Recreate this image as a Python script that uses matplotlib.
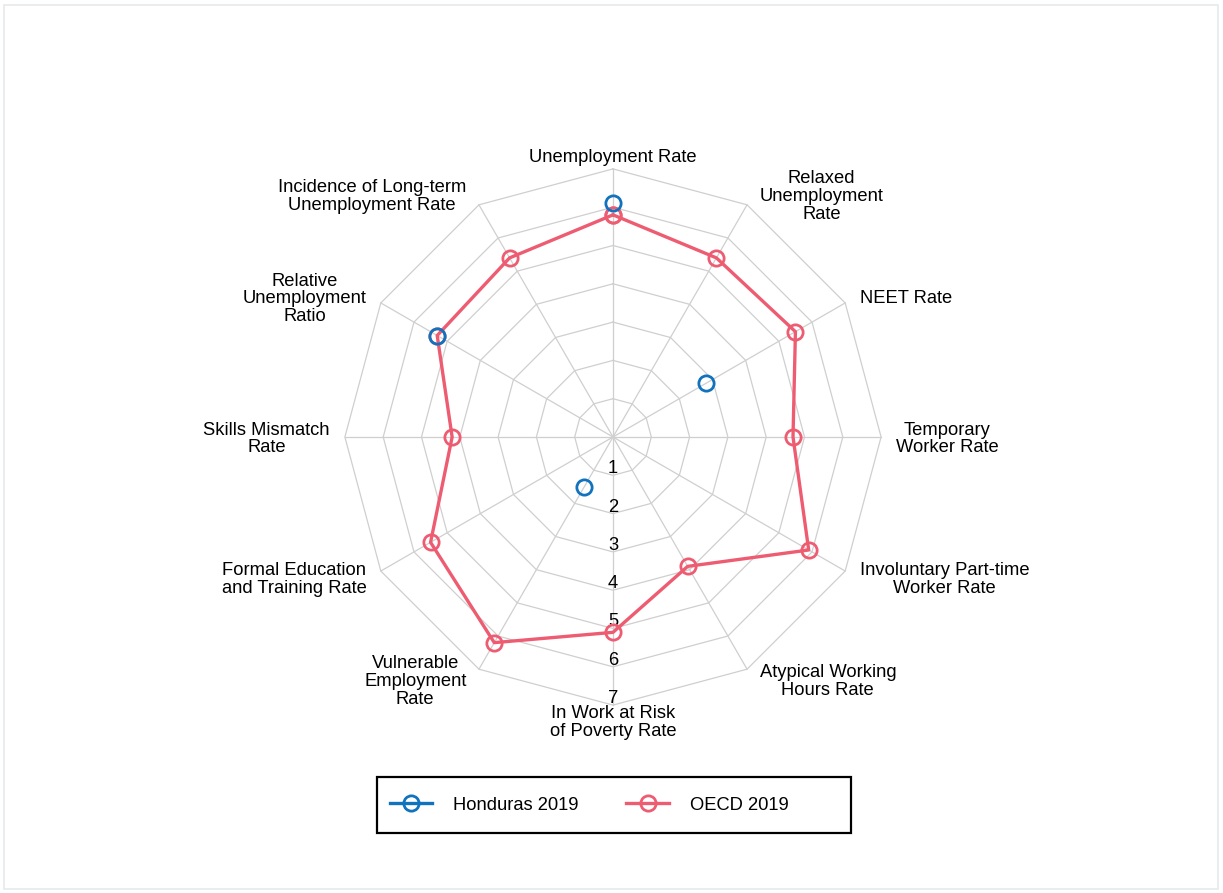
import numpy as np
import matplotlib
matplotlib.use("Agg")
import matplotlib.pyplot as plt
from matplotlib.patches import Rectangle

plt.rcParams['font.family'] = ['Liberation Sans', 'DejaVu Sans']

categories = [
    "Unemployment Rate",
    "Relaxed\nUnemployment\nRate",
    "NEET Rate",
    "Temporary\nWorker Rate",
    "Involuntary Part-time\nWorker Rate",
    "Atypical Working\nHours Rate",
    "In Work at Risk\nof Poverty Rate",
    "Vulnerable\nEmployment\nRate",
    "Formal Education\nand Training Rate",
    "Skills Mismatch\nRate",
    "Relative\nUnemployment\nRatio",
    "Incidence of Long-term\nUnemployment Rate",
]
levels = [1, 2, 3, 4, 5, 6, 7]

# NaN = not reported
honduras = [6.1, np.nan, 2.8, np.nan, np.nan, np.nan, np.nan, 1.5, np.nan, np.nan, 5.3, np.nan]
oecd = [5.8, 5.4, 5.5, 4.7, 5.9, 3.9, 5.1, 6.2, 5.5, 4.2, 5.3, 5.4]

blue = "#1172be"
pink = "#ee5c72"
grid_col = "#cfcfcf"
fs = 13.2
W, H = 1223, 893

n = len(categories)
theta = np.arange(n) * 2 * np.pi / n
sx, cy = np.sin(theta), np.cos(theta)

fig = plt.figure(figsize=(W / 100, H / 100), dpi=100)
fig.patches.append(Rectangle((0.003, 0.004), 0.993, 0.99, transform=fig.transFigure,
                             fill=False, edgecolor="#e6eaee", linewidth=1.2))

# center at (613, 437) px, 38.3 px per unit
unit = 38.3
ax = fig.add_axes([0, 0, 1, 1])
ax.set_xlim(-613 / unit, (W - 613) / unit)
ax.set_ylim(-(H - 437) / unit, 437 / unit)
ax.axis("off")

# polygon grid
for lv in levels:
    ax.plot(np.append(sx, sx[0]) * lv, np.append(cy, cy[0]) * lv,
            color=grid_col, lw=0.9, zorder=1)
for i in range(n):
    ax.plot([0, sx[i] * levels[-1]], [0, cy[i] * levels[-1]], color=grid_col, lw=0.9, zorder=1)

# level labels along the bottom spoke
for lv in levels:
    ax.text(0, -lv - 0.05, str(lv), ha="center", va="bottom", fontsize=fs, zorder=3)

# category labels
R = levels[-1]
for i, lab in enumerate(categories):
    x, y = sx[i] * R, cy[i] * R
    if abs(sx[i]) < 0.01:
        va = "bottom" if cy[i] > 0 else "top"
        off = (0, 3 if cy[i] > 0 else 0)
        ha = "center"
    else:
        ha = "left" if sx[i] > 0 else "right"
        va = "center"
        off = (10 * np.sign(sx[i]) + 5 * sx[i], 12 * cy[i] - 2)
    ax.annotate(lab, (x, y), xytext=off, textcoords="offset pixels",
                ha=ha, va=va, ma="center", fontsize=fs, linespacing=1.07)

# OECD closed polygon
ov = np.array(oecd)
ax.plot(np.append(ov * sx, ov[0] * sx[0]), np.append(ov * cy, ov[0] * cy[0]),
        color=pink, lw=2.4, marker="o", ms=11, mfc="none", mew=2, zorder=4,
        label="OECD 2019")

hv = np.array(honduras)
ax.plot(hv * sx, hv * cy, color=blue, lw=2.4, marker="o", ms=11, mfc="none", mew=2,
        zorder=5, label="Honduras 2019")

# legend: box drawn separately, entries left-aligned inside
fig.patches.append(Rectangle((377 / W, (H - 833) / H), 474 / W, 56 / H,
                             transform=fig.transFigure, fill=False,
                             edgecolor="black", linewidth=1.6))
handles, labels = ax.get_legend_handles_labels()
ax.legend(handles[::-1], labels[::-1], loc="center left",
          bbox_to_anchor=(390 / W, (H - 805) / H), bbox_transform=fig.transFigure,
          ncol=2, frameon=False, fontsize=fs, handlelength=2.3, columnspacing=2.6,
          borderpad=0, borderaxespad=0, handletextpad=1.15)

fig.savefig("out.png", dpi=100)
